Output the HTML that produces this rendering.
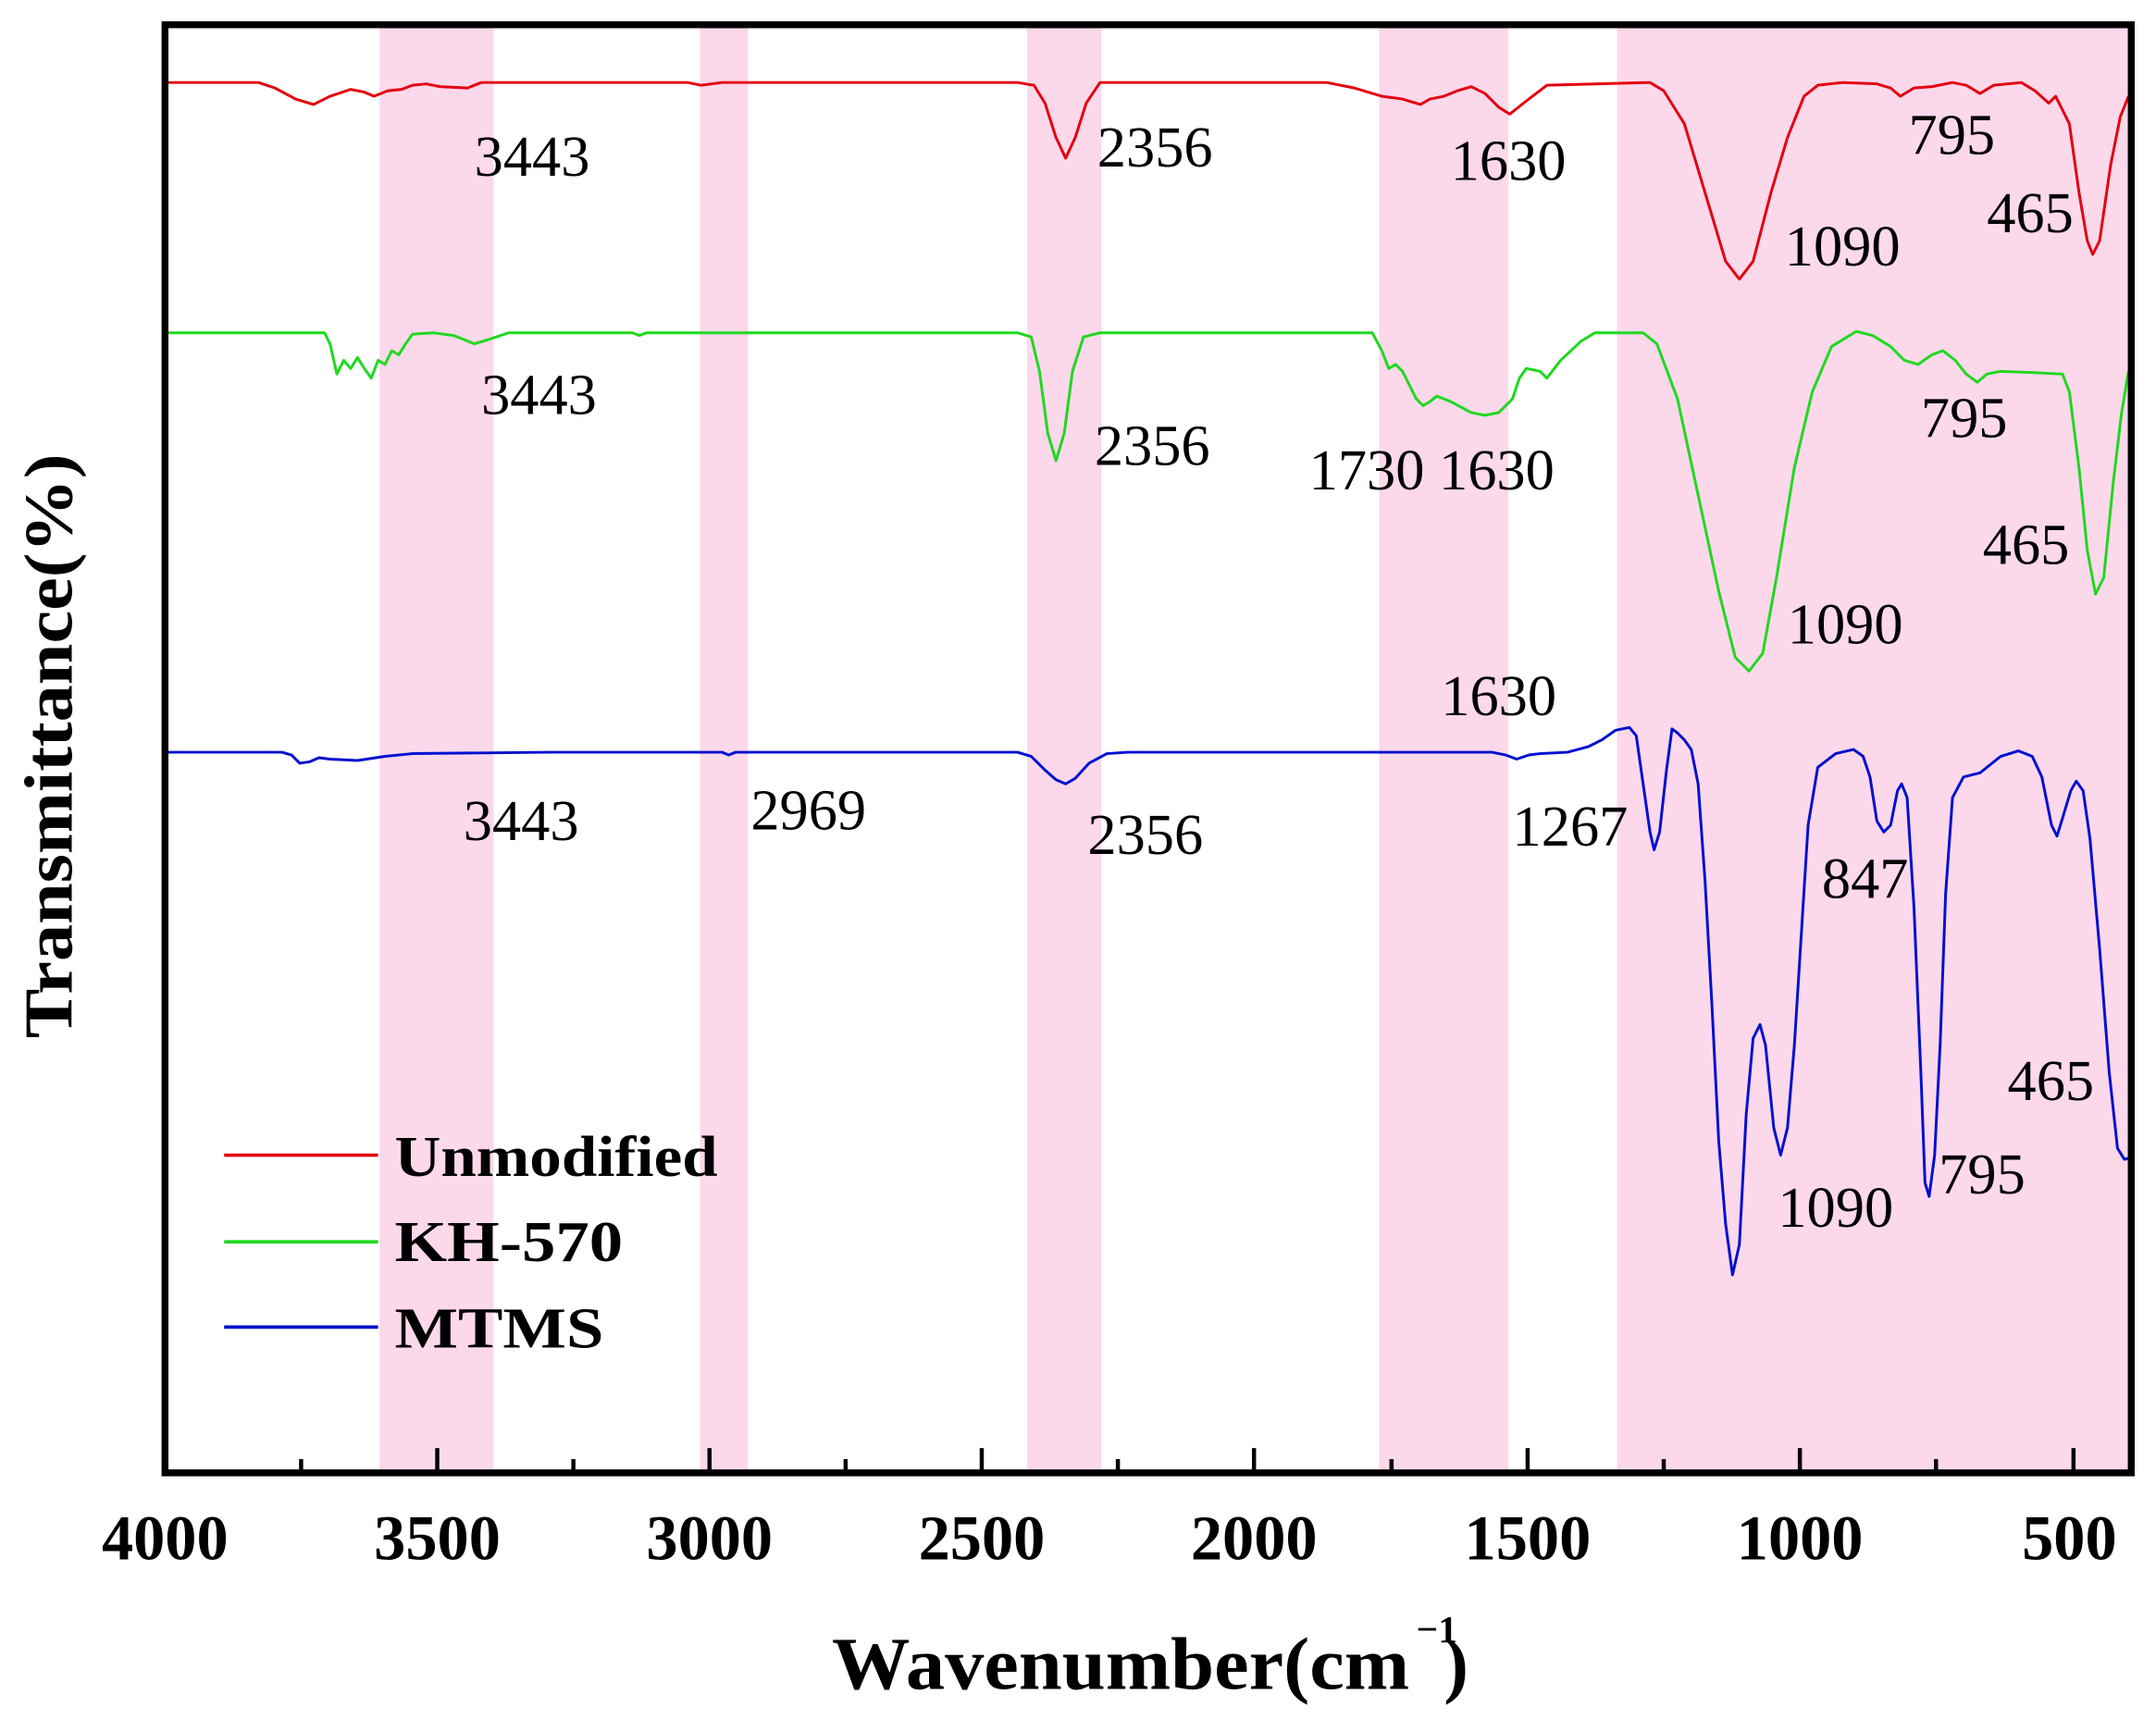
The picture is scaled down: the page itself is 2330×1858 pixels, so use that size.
<!DOCTYPE html>
<html><head><meta charset="utf-8"><style>html,body{margin:0;padding:0;background:#fff}svg{display:block}</style></head>
<body>
<svg width="2330" height="1858" viewBox="0 0 1568 1250" preserveAspectRatio="none" xmlns="http://www.w3.org/2000/svg">
<rect width="1568" height="1250" fill="#fff"/>
<g fill="#fcd8eb">
<rect x="276" y="18" width="83" height="1053"/>
<rect x="509" y="18" width="35" height="1053"/>
<rect x="747" y="18" width="54" height="1053"/>
<rect x="1003" y="18" width="94" height="1053"/>
<rect x="1176" y="18" width="374" height="1053"/>
</g>
<g fill="none" stroke-width="2" stroke-linejoin="round">
<polyline stroke="#e3000f" points="120,60 188,60 200,64 215,72 228,76 240,70 255,65 265,67 272,70 282,66 292,65 300,62 310,61 320,63 340,64 350,60 500,60 510,62 525,60 740,60 752,62 760,75 768,100 775,115 782,100 790,75 800,60 965,60 985,64 1005,70 1020,72 1033,76 1040,72 1050,70 1060,66 1070,63 1080,68 1090,78 1098,83 1108,75 1125,62 1200,60 1210,66 1225,90 1240,140 1255,190 1265,203 1275,190 1288,140 1300,100 1312,70 1322,62 1340,60 1365,61 1375,64 1382,70 1392,64 1405,63 1420,60 1430,62 1440,68 1450,62 1470,60 1480,66 1490,75 1495,70 1505,90 1512,140 1518,175 1522,185 1527,175 1535,120 1542,85 1548,70"/>
<polyline stroke="#1fd81f" points="120,242 236,242 240,250 245,272 250,262 255,268 260,260 265,268 270,275 275,262 280,265 285,255 290,258 295,250 300,243 315,242 330,244 345,250 355,247 370,242 460,242 465,244 470,242 740,242 750,245 756,270 762,315 768,335 774,315 780,270 788,245 800,242 998,242 1005,255 1010,268 1015,265 1020,270 1030,290 1035,295 1040,292 1045,288 1055,292 1070,300 1080,302 1090,300 1100,290 1105,275 1110,268 1120,270 1125,275 1135,262 1150,248 1160,242 1195,242 1205,250 1220,290 1235,360 1250,430 1262,478 1272,488 1282,475 1292,420 1305,340 1318,285 1332,252 1350,241 1362,244 1375,252 1385,262 1395,265 1405,258 1413,255 1422,262 1430,272 1438,278 1445,272 1455,270 1480,271 1500,272 1505,285 1512,340 1518,400 1524,432 1530,420 1537,350 1543,300 1548,270"/>
<polyline stroke="#0010d0" points="120,547 205,547 212,549 218,555 225,554 232,551 240,552 260,553 280,550 300,548 400,547 525,547 530,549 535,547 740,547 750,550 760,560 768,567 775,570 782,566 792,555 805,548 820,547 1085,547 1095,549 1103,552 1112,549 1120,548 1140,547 1155,543 1165,538 1175,531 1185,529 1190,535 1195,570 1200,605 1203,618 1207,605 1212,560 1216,530 1220,533 1225,538 1230,545 1235,570 1240,640 1245,730 1250,830 1255,890 1260,927 1265,905 1270,810 1275,755 1280,745 1284,760 1290,820 1295,840 1300,820 1305,760 1310,680 1315,600 1322,558 1335,548 1348,545 1355,550 1360,565 1365,597 1370,605 1375,600 1380,575 1383,570 1387,580 1392,660 1397,780 1400,860 1403,870 1407,840 1411,760 1415,650 1420,580 1428,565 1440,562 1455,550 1468,546 1478,550 1485,565 1492,600 1496,608 1500,595 1506,575 1510,568 1515,575 1520,610 1527,690 1534,780 1540,835 1545,843 1549,842"/>
</g>
<rect x="120" y="18" width="1430" height="1053" fill="none" stroke="#000" stroke-width="5"/>
<g stroke="#000" stroke-width="3">
<line x1="120" y1="1071" x2="120" y2="1053"/>
<line x1="318" y1="1071" x2="318" y2="1053"/>
<line x1="516" y1="1071" x2="516" y2="1053"/>
<line x1="714" y1="1071" x2="714" y2="1053"/>
<line x1="912" y1="1071" x2="912" y2="1053"/>
<line x1="1111" y1="1071" x2="1111" y2="1053"/>
<line x1="1309" y1="1071" x2="1309" y2="1053"/>
<line x1="1508" y1="1071" x2="1508" y2="1053"/>
<line x1="219" y1="1071" x2="219" y2="1061"/>
<line x1="417" y1="1071" x2="417" y2="1061"/>
<line x1="615" y1="1071" x2="615" y2="1061"/>
<line x1="813" y1="1071" x2="813" y2="1061"/>
<line x1="1012" y1="1071" x2="1012" y2="1061"/>
<line x1="1210" y1="1071" x2="1210" y2="1061"/>
<line x1="1408" y1="1071" x2="1408" y2="1061"/>
</g>
<g font-family="Liberation Serif, serif" font-weight="bold" font-size="46" text-anchor="middle" fill="#000">
<text x="120" y="1134">4000</text><text x="318" y="1134">3500</text><text x="516" y="1134">3000</text>
<text x="714" y="1134">2500</text><text x="912" y="1134">2000</text><text x="1111" y="1134">1500</text>
<text x="1309" y="1134">1000</text><text x="1505" y="1134">500</text>
</g>
<text x="605" y="1228" font-family="Liberation Serif, serif" font-weight="bold" font-size="54" textLength="420" lengthAdjust="spacingAndGlyphs">Wavenumber(cm</text>
<text x="1030" y="1194" font-family="Liberation Serif, serif" font-weight="bold" font-size="28">−1</text>
<text x="1050" y="1228" font-family="Liberation Serif, serif" font-weight="bold" font-size="54">)</text>
<text transform="translate(52,755) rotate(-90)" font-family="Liberation Serif, serif" font-weight="bold" font-size="50" textLength="425" lengthAdjust="spacingAndGlyphs">Transmittance(%)</text>
<g font-family="Liberation Serif, serif" font-size="42" fill="#000">
<text x="345" y="128">3443</text><text x="798" y="121">2356</text><text x="1055" y="131">1630</text>
<text x="1298" y="193">1090</text><text x="1388" y="112">795</text><text x="1445" y="169">465</text>
<text x="350" y="301">3443</text><text x="796" y="338">2356</text><text x="952" y="356">1730 1630</text>
<text x="1300" y="468">1090</text><text x="1397" y="318">795</text><text x="1442" y="410">465</text>
<text x="1048" y="520">1630</text><text x="337" y="611">3443</text><text x="546" y="603">2969</text>
<text x="791" y="621">2356</text><text x="1100" y="615">1267</text><text x="1325" y="653">847</text>
<text x="1460" y="800">465</text><text x="1410" y="868">795</text><text x="1293" y="892">1090</text>
</g>
<g stroke-width="2.5">
<line x1="163" y1="840" x2="275" y2="840" stroke="#e3000f"/>
<line x1="163" y1="903" x2="275" y2="903" stroke="#1fd81f"/>
<line x1="163" y1="965" x2="275" y2="965" stroke="#0010d0"/>
</g>
<g font-family="Liberation Serif, serif" font-weight="bold" font-size="42" fill="#000">
<text x="287" y="855" textLength="235" lengthAdjust="spacingAndGlyphs">Unmodified</text><text x="287" y="917" textLength="166" lengthAdjust="spacingAndGlyphs">KH-570</text><text x="287" y="980" textLength="152" lengthAdjust="spacingAndGlyphs">MTMS</text>
</g>
</svg>
</body></html>
